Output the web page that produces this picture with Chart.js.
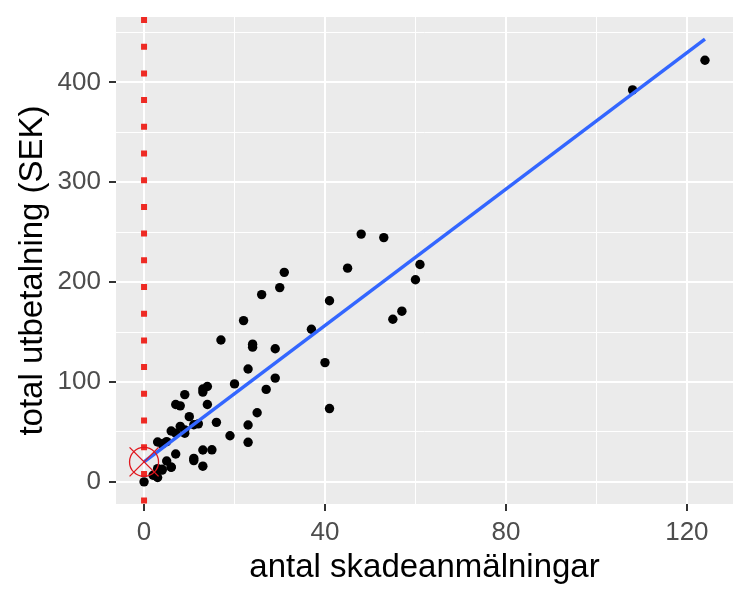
<!DOCTYPE html>
<html>
<head>
<meta charset="utf-8">
<script src="https://cdn.jsdelivr.net/npm/chart.js@4/dist/chart.umd.min.js"></script>
<style>
  html, body { margin: 0; padding: 0; background: #fff; }
  #wrap { width: 750px; height: 600px; }
</style>
</head>
<body>
<div id="wrap"><canvas id="c" width="750" height="600"></canvas></div>
<script>
/* data: antal skadeanmälningar (x) vs total utbetalning (y) */
const claims = [108,19,13,124,40,57,23,14,45,10,5,48,11,23,7,2,24,6,3,23,6,9,9,3,29,7,4,20,7,4,0,25,6,5,22,11,61,12,4,16,13,60,41,37,55,41,11,27,8,3,17,13,13,15,8,29,30,24,9,31,14,53,26];
const payments = [392.5,46.2,15.7,422.2,119.4,170.9,56.9,77.5,214,65.3,20.9,248.1,23.5,39.6,48.8,6.6,134.9,50.9,4.4,113,14.8,48.7,52.1,13.2,103.9,77.5,11.8,98.1,27.9,38.1,0,69.2,14.6,40.3,161.5,57.2,217.6,58.1,12.6,59.6,89.9,202.4,181.3,152.8,162.8,73.4,21.3,92.6,76.1,39.9,142.1,93,31.9,32.1,55.6,133.3,194.5,137.9,87.4,209.8,95.5,244.6,187.5];

const xTicks = [0, 40, 80, 120];
const xMinor = [20, 60, 100];
const yTicks = [0, 100, 200, 300, 400];
const yMinor = [50, 150, 250, 350, 450];

const xTitle = 'antal skadeanmälningar';
const yTitle = 'total utbetalning (SEK)';

/* ── least squares fit ── */
const n = claims.length;
const mx = claims.reduce((a, b) => a + b, 0) / n;
const my = payments.reduce((a, b) => a + b, 0) / n;
let sxy = 0, sxx = 0;
for (let i = 0; i < n; i++) {
    sxy += (claims[i] - mx) * (payments[i] - my);
    sxx += (claims[i] - mx) ** 2;
}
const slope = sxy / sxx;
const intercept = my - slope * mx;
const xLo = Math.min(...claims), xHi = Math.max(...claims);
const fitLine = [xLo, xHi].map(x => ({ x, y: intercept + slope * x }));

/* ── ggplot-like 5% expansion ── */
const yLoRaw = Math.min(...payments, fitLine[0].y, fitLine[1].y);
const yHiRaw = Math.max(...payments, fitLine[0].y, fitLine[1].y);
const xPad = (xHi - xLo) * 0.05, yPad = (yHiRaw - yLoRaw) * 0.05;
const xMin = xLo - xPad, xMax = xHi + xPad;
const yMin = yLoRaw - yPad, yMax = yHiRaw + yPad;

const points = claims.map((x, i) => ({ x, y: payments[i] }));

const FONT = "'Liberation Sans', Arial, Helvetica, sans-serif";
const PANEL = { left: 116, right: 733, top: 17, bottom: 504 };

const panelBg = {
    id: 'panelBg',
    beforeDraw(chart) {
        const { ctx, chartArea: a } = chart;
        ctx.save();
        ctx.fillStyle = '#EBEBEB';
        ctx.fillRect(a.left, a.top, a.right - a.left, a.bottom - a.top);
        ctx.restore();
    }
};

const axisTitles = {
    id: 'axisTitles',
    afterDraw(chart) {
        const { ctx, chartArea: a } = chart;
        ctx.save();
        ctx.fillStyle = '#000';
        ctx.font = `33px ${FONT}`;
        ctx.textAlign = 'center';
        ctx.textBaseline = 'alphabetic';
        ctx.fillText(xTitle, (a.left + a.right) / 2, 577);
        ctx.translate(41.5, (a.top + a.bottom) / 2 + 10);
        ctx.rotate(-Math.PI / 2);
        ctx.fillText(yTitle, 0, 0);
        ctx.restore();
    }
};

// pin the panel to where the reference has it
const fixArea = {
    id: 'fixArea',
    afterLayout(chart) {
        const a = chart.chartArea;
        Object.assign(a, PANEL);
        a.width = PANEL.right - PANEL.left;
        a.height = PANEL.bottom - PANEL.top;
        const x = chart.scales.x, y = chart.scales.y;
        x.left = PANEL.left; x.right = PANEL.right; x.width = a.width;
        x.top = PANEL.bottom; x.bottom = 600; x.height = 600 - PANEL.bottom;
        y.top = PANEL.top; y.bottom = PANEL.bottom; y.height = a.height;
        y.left = 0; y.right = PANEL.left; y.width = PANEL.left;
        x.configure(); y.configure();
    }
};

function setTicks(major, minor) {
    return scale => { scale.ticks = major.concat(minor).sort((a, b) => a - b).map(v => ({ value: v })); };
}

new Chart(document.getElementById('c'), {
    type: 'scatter',
    data: {
        datasets: [
            { label: 'kors', data: [{ x: 0, y: intercept }], pointStyle: 'crossRot', pointRadius: 14.5 * Math.SQRT2, borderColor: '#E0161D', borderWidth: 1.3, backgroundColor: 'transparent' },
            { label: 'cirkel', data: [{ x: 0, y: intercept }], pointStyle: 'circle', pointRadius: 14.5, borderColor: '#E0161D', borderWidth: 1.3, backgroundColor: 'transparent' },
            { label: 'vline', type: 'line', data: [{ x: 0, y: yMax }, { x: 0, y: yMin }], borderColor: '#EE2A24', borderWidth: 6, borderDash: [6, 20.7], borderCapStyle: 'butt', pointRadius: 0 },
            { label: 'fit', type: 'line', data: fitLine, borderColor: '#3366FF', borderWidth: 3.4, pointRadius: 0 },
            { label: 'data', data: points, pointRadius: 4.7, backgroundColor: '#000', borderWidth: 0 }
        ]
    },
    options: {
        responsive: false,
        animation: false,
        events: [],
        layout: { padding: { left: 0, right: 17, top: 17, bottom: 0 } },
        plugins: { legend: { display: false }, tooltip: { enabled: false } },
        scales: {
            x: {
                type: 'linear', min: xMin, max: xMax,
                afterBuildTicks: setTicks(xTicks, xMinor),
                afterFit: s => { s.height = 96; },
                border: { display: false },
                grid: {
                    color: '#FFFFFF',
                    lineWidth: c => xMinor.includes(c.tick.value) ? 1 : 2,
                    tickLength: 7,
                    tickColor: c => xMinor.includes(c.tick.value) ? 'rgba(0,0,0,0)' : '#333333',
                    tickWidth: 2
                },
                ticks: {
                    padding: 6,
                    color: '#4D4D4D',
                    font: { family: FONT, size: 26 },
                    callback: v => xTicks.includes(v) ? String(v) : ''
                }
            },
            y: {
                type: 'linear', min: yMin, max: yMax,
                afterBuildTicks: setTicks(yTicks, yMinor),
                afterFit: s => { s.width = 116; },
                border: { display: false },
                grid: {
                    color: '#FFFFFF',
                    lineWidth: c => yMinor.includes(c.tick.value) ? 1 : 2,
                    tickLength: 7,
                    tickColor: c => yMinor.includes(c.tick.value) ? 'rgba(0,0,0,0)' : '#333333',
                    tickWidth: 2
                },
                ticks: {
                    padding: 8,
                    color: '#4D4D4D',
                    font: { family: FONT, size: 26 },
                    callback: v => yTicks.includes(v) ? String(v) : ''
                }
            }
        }
    },
    plugins: [fixArea, panelBg, axisTitles]
});
</script>
</body>
</html>
